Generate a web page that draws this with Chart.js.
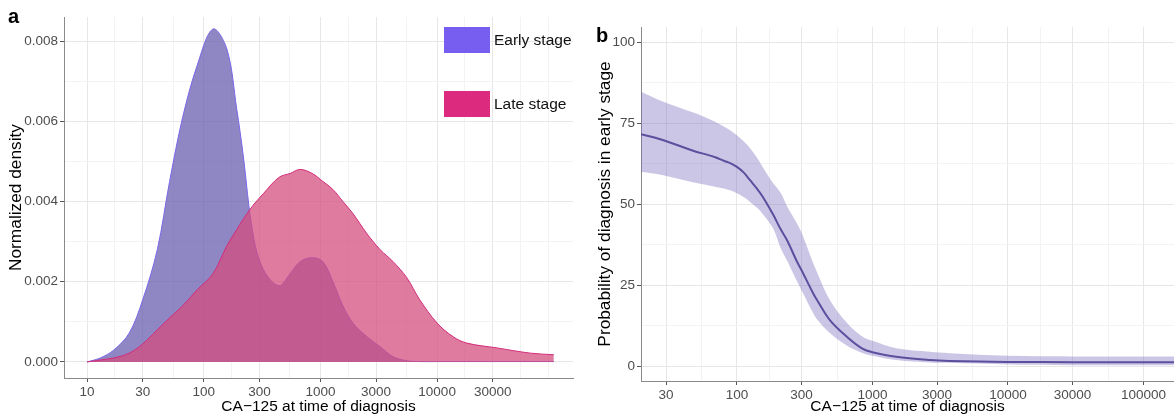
<!DOCTYPE html>
<html>
<head>
<meta charset="utf-8">
<script src="https://cdn.jsdelivr.net/npm/chart.js@4.4.1/dist/chart.umd.min.js"></script>
<style>
  body { margin: 0; background: #fff; width: 1174px; height: 416px; overflow: hidden; position: relative;
         font-family: "Liberation Sans", Arial, sans-serif; }
  canvas { position: absolute; top: 0; }
  #left { left: 0; }
  #right { left: 585px; }
  .tag { position: absolute; font-weight: bold; font-size: 20px; line-height: 1; color: #000; }
  .key { position: absolute; left: 444px; width: 46px; height: 26px; }
  .keytxt { position: absolute; left: 494px; font-size: 15.5px; line-height: 26px; color: #111; }
</style>
</head>
<body>
<canvas id="left" width="578" height="416"></canvas>
<canvas id="right" width="589" height="416"></canvas>
<div class="tag" style="left:8px;top:6px">a</div>
<div class="tag" style="left:596px;top:25px">b</div>
<div id="legend"></div>
<script>
// panel a: density of CA-125 by stage
const caLevels = [10, 13, 17, 23, 30, 40, 51, 66, 88, 120, 158, 192, 217, 264, 325, 440, 550, 670, 850,
  1050, 1280, 1560, 1900, 2500, 3250, 4200, 5500, 7100, 10000, 13700, 18000, 32600, 63000, 100000];
const earlyDensity = [0, 0.0001, 0.0003, 0.00072, 0.00155, 0.0028, 0.0045, 0.0061, 0.0074, 0.0083, 0.0078,
  0.0063, 0.0052, 0.0032, 0.0023, 0.0019, 0.0022, 0.0025, 0.0026, 0.0025, 0.002, 0.0014, 0.00097, 0.00063,
  0.00038, 0.00013, 0.00003, 0.00001, 0.00001, 0.00001, 0.00001, 0.00001, 0.00001, 0.00001];
const lateDensity = [0, 0.00005, 0.0001, 0.00022, 0.00045, 0.0008, 0.0011, 0.0014, 0.0018, 0.0022, 0.0029,
  0.0033, 0.00355, 0.0039, 0.0042, 0.0046, 0.0047, 0.0048, 0.0047, 0.0045, 0.0043, 0.004, 0.0037, 0.0032,
  0.0028, 0.0025, 0.0021, 0.00155, 0.00097, 0.00063, 0.00047, 0.00035, 0.00022, 0.00018];
const stageNames = ['Early stage', 'Late stage'];

// panel b: fitted probability of early-stage diagnosis with band
const caFit = [19.6, 28, 50, 60, 70, 80, 90, 100, 112, 125, 140, 155, 185, 210, 235, 275, 305, 365, 390,
  485, 650, 850, 1000, 1500, 2650, 3700, 10000, 30000, 100000, 200000];
const probFit = [71.6, 69.9, 66.2, 65.3, 64.4, 63.4, 62.6, 61.5, 59.8, 57.4, 54.9, 52.3, 46.8, 42.3, 38.8,
  32.6, 29, 22.5, 20.4, 14.2, 9.0, 5.3, 4.3, 2.9, 1.9, 1.6, 1.3, 1.2, 1.2, 1.2];
const probUpper = [84.7, 81.8, 78, 76.6, 75.3, 74, 72.7, 71.3, 69.4, 67.3, 64.5, 61.5, 56.5, 53.5, 49.3,
  44.3, 40.5, 31.8, 29, 20.4, 13.3, 9, 7.8, 5.5, 4.4, 4, 3.2, 3, 3, 3];
const probLower = [60, 59, 56.5, 55.9, 55.3, 54.8, 54.2, 53.4, 52.2, 50.7, 49, 47, 42.5, 36.5, 32.5,
  26.5, 22.8, 16.4, 14.5, 10.2, 6.3, 4, 3.2, 1.85, 1.1, 1, 0.5, 0.3, 0.3, 0.3];

// tick labels
const xBreaksA = [10, 30, 100, 300, 1000, 3000, 10000, 30000];
const yBreaksA = [0, 0.002, 0.004, 0.006, 0.008];
const xBreaksB = [30, 100, 300, 1000, 3000, 10000, 30000, 100000];
const yBreaksB = [0, 25, 50, 75, 100];

const font = "'Liberation Sans', Arial, sans-serif";

// major + minor breaks the way ggplot places them
function gridBreaks(major, lo, hi, log) {
  const f = log ? Math.log10 : v => v;
  const g = log ? v => Math.pow(10, v) : v => v;
  let b = major.map(f);
  const bd = b[1] - b[0];
  if (f(lo) < b[0]) b = [b[0] - bd, ...b];
  if (f(hi) > b[b.length - 1]) b = [...b, b[b.length - 1] + bd];
  const out = [];
  b.forEach((v, i) => {
    out.push(v);
    if (i < b.length - 1) out.push((v + b[i + 1]) / 2);
  });
  return out.map(g).filter(v => v >= lo && v <= hi).map(v => {
    const m = major.find(m => Math.abs(f(m) - f(v)) < 1e-9);
    return m === undefined ? { value: v, minor: true } : { value: m, minor: false };
  });
}

function axis(type, lo, hi, breaks, fmt, size, title, titleFont, titlePad) {
  const log = type === 'logarithmic';
  return {
    type: type, min: lo, max: hi, bounds: 'data',
    afterBuildTicks: s => { s.ticks = gridBreaks(breaks, lo, hi, log); },
    afterFit: s => { if (s.isHorizontal()) s.height = size; else s.width = size; },
    ticks: {
      autoSkip: false, maxRotation: 0, padding: 2, color: '#4d4d4d',
      font: { family: font, size: 13.5 },
      callback: (v, i, t) => t[i].minor ? '' : fmt(v)
    },
    grid: {
      color: c => c.tick && c.tick.minor ? '#f3f3f3' : '#e7e7e7',
      tickColor: c => c.tick && c.tick.minor ? 'rgba(0,0,0,0)' : '#555',
      tickLength: 4, lineWidth: 1
    },
    border: { display: true, color: '#8a8a8a', width: 1 },
    title: { display: true, text: title, color: '#000', font: { family: font, size: titleFont },
             padding: titlePad }
  };
}

const chartA = new Chart(document.getElementById('left'), {
  type: 'line',
  data: {
    datasets: [{
      label: stageNames[0],
      data: caLevels.map((x, i) => ({ x: x, y: earlyDensity[i] })),
      borderColor: '#7a66e8', borderWidth: 1,
      backgroundColor: 'rgba(102,91,173,0.73)',
      legendColor: '#785ef0',
      fill: 'origin', order: 2
    }, {
      label: stageNames[1],
      data: caLevels.map((x, i) => ({ x: x, y: lateDensity[i] })),
      borderColor: '#d22a7a', borderWidth: 1,
      backgroundColor: 'rgba(212,74,125,0.73)',
      legendColor: '#dc2a7e',
      fill: 'origin', order: 1
    }]
  },
  options: {
    responsive: false, animation: false,
    layout: { padding: { top: 17, right: 5, left: 0, bottom: 0 } },
    elements: { point: { radius: 0 }, line: { tension: 0.35 } },
    plugins: { legend: { display: false }, tooltip: { enabled: false } },
    scales: {
      x: axis('logarithmic', 6.35, 146000, xBreaksA, v => String(Math.round(v)), 38,
              'CA\u2212125 at time of diagnosis', 15.5, { top: 0, bottom: 0 }),
      y: axis('linear', -0.0004, 0.0086, yBreaksA, v => v.toFixed(3), 64,
              'Normalized density', 17.3, { top: 6, bottom: 0 })
    }
  }
});

new Chart(document.getElementById('right'), {
  type: 'line',
  data: {
    datasets: [{
      label: 'fit',
      data: caFit.map((x, i) => ({ x: x, y: probFit[i] })),
      borderColor: '#5b4f9e', borderWidth: 2, fill: false, order: 0
    }, {
      label: 'upper',
      data: caFit.map((x, i) => ({ x: x, y: probUpper[i] })),
      borderWidth: 0, borderColor: 'rgba(0,0,0,0)',
      backgroundColor: 'rgba(120,105,190,0.38)', fill: '+1', order: 1
    }, {
      label: 'lower',
      data: caFit.map((x, i) => ({ x: x, y: probLower[i] })),
      borderWidth: 0, borderColor: 'rgba(0,0,0,0)', fill: false, order: 2
    }]
  },
  options: {
    responsive: false, animation: false,
    layout: { padding: { top: 27, right: 0, left: 0, bottom: 0 } },
    elements: { point: { radius: 0 }, line: { tension: 0.35 } },
    plugins: { legend: { display: false }, tooltip: { enabled: false } },
    scales: {
      x: axis('logarithmic', 19.6, 168000, xBreaksB, v => String(Math.round(v)), 35,
              'CA\u2212125 at time of diagnosis', 15.5, { top: 0, bottom: 0 }),
      y: axis('linear', -4.6, 104.7, yBreaksB, v => String(v), 56,
              'Probability of diagnosis in early stage', 17.3, { top: 10, bottom: 0 })
    }
  }
});

// legend boxes for panel a, built from its datasets
const legend = document.getElementById('legend');
chartA.data.datasets.forEach((ds, i) => {
  const top = 27 + i * 64;
  const box = document.createElement('div');
  box.className = 'key';
  box.style.top = top + 'px';
  box.style.background = ds.legendColor;
  legend.appendChild(box);
  const txt = document.createElement('div');
  txt.className = 'keytxt';
  txt.style.top = top + 'px';
  txt.textContent = ds.label;
  legend.appendChild(txt);
});
</script>
</body>
</html>
